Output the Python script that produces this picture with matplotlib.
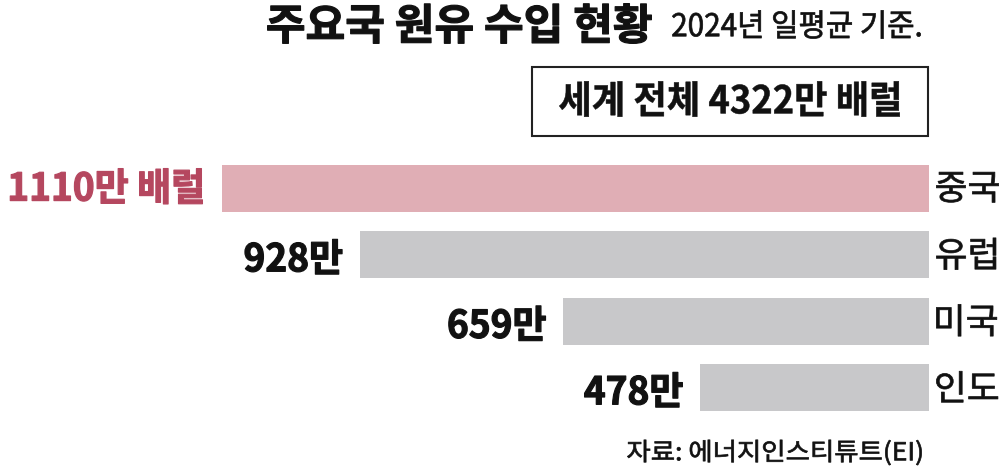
import matplotlib
matplotlib.use("Agg")
import matplotlib.pyplot as plt
from matplotlib.textpath import TextPath
from matplotlib.patches import PathPatch, Rectangle
from matplotlib.font_manager import FontProperties
from matplotlib.transforms import Affine2D

# Crude oil imports, 2024 daily average (10,000 barrels per day)
regions = ["중국", "유럽", "미국", "인도"]
imports = [1110, 928, 659, 478]
world_total = 4322
title = "주요국 원유 수입 현황"
subtitle = "2024년 일평균 기준."
source = "자료: 에너지인스티튜트(EI)"

PINK = "#e0aeb5"
RED = "#b5475f"
GRAY = "#c8c8ca"
INK = "#111111"
FAMILY = "Noto Sans CJK KR"

W, H = 1000, 469
fig = plt.figure(figsize=(W / 100, H / 100), dpi=100)

# --- bar panel: bars grow leftwards, right edge at x = 929 px ---
px_per_unit = 0.7563
baseline = 175.2
right_px = 929
top_px, bottom_px = 155, 421
ax = fig.add_axes([0, (H - bottom_px) / H, right_px / W, (bottom_px - top_px) / H])
ypos = list(range(len(regions)))
colors = [PINK] + [GRAY] * (len(regions) - 1)
ax.barh(ypos, imports, height=0.707, color=colors, linewidth=0)
ax.set_xlim(baseline + right_px / px_per_unit, baseline)
ax.set_ylim(len(regions) - 0.5, -0.5)
ax.axis("off")

# --- overlay in pixel coordinates for text ---
ov = fig.add_axes([0, 0, 1, 1], zorder=5)
ov.set_xlim(0, W)
ov.set_ylim(0, H)
ov.axis("off")


def glyph_path(s, weight):
    fp = FontProperties(family=FAMILY, weight=weight)
    return TextPath((0, 0), s, size=100, prop=fp)


def fit_scale(s, weight, w, h):
    ext = glyph_path(s, weight).get_extents()
    return w / ext.width, h / ext.height


def draw(s, weight, color, scale, x, y, ha="left", stroke=0.0):
    """Draw string s with ink box aligned at x (left/right) and centred at y (pixels from top).
    stroke (px) thickens the glyph outlines."""
    path = glyph_path(s, weight)
    ext = path.get_extents()
    sx, sy = scale
    if ha == "left":
        tx = x + stroke / 2 - ext.x0 * sx
    elif ha == "right":
        tx = x - stroke / 2 - ext.x1 * sx
    else:
        tx = x - (ext.x0 + ext.x1) / 2 * sx
    ty = (H - y) - (ext.y0 + ext.y1) / 2 * sy
    tr = Affine2D().scale(sx, sy).translate(tx, ty)
    ov.add_patch(PathPatch(tr.transform_path(path), facecolor=color,
                           edgecolor=color if stroke else "none",
                           lw=stroke * 0.72, joinstyle="round"))


# title and subtitle
draw(title, "bold", INK, fit_scale(title, "bold", 652 - 267 - 1.2, 41 - 1.2),
     267, 23.5, stroke=1.2)
draw(subtitle, "regular", INK, fit_scale(subtitle, "regular", 921 - 672 - 0.7, 29 - 0.7),
     672, 24.5, stroke=0.7)

# world total box
ov.add_patch(Rectangle((532, H - 136), 396, 69, facecolor="none",
                       edgecolor="#222222", lw=1.5))
box_text = f"세계 전체 {world_total}만 배럴"
draw(box_text, "bold", INK, fit_scale(box_text, "bold", 900 - 559 - 0.5, 36 - 0.5),
     559, 99, stroke=0.5)

# value labels, right-aligned just left of each bar
val_scale = fit_scale("478만", "bold", 99 - 1.2, 36 - 1.2)
for i, v in enumerate(imports):
    bx, by = ax.transData.transform((v, i))
    cy = H - by
    if i == 0:
        draw(f"{v}만 배럴", "bold", RED, val_scale, bx - 19, cy - 2, ha="right", stroke=1.2)
    else:
        draw(f"{v}만", "bold", INK, val_scale, bx - 17, cy + 2, ha="right", stroke=1.2)

# region names to the right of the bars
name_scale = fit_scale("중국", "regular", 63 - 0.7, 31 - 0.7)
for i, name in enumerate(regions):
    bx, by = ax.transData.transform((baseline, i))
    draw(name, "regular", INK, name_scale, bx + 7, H - by - 1, stroke=0.7)

# source
draw(source, "regular", INK, fit_scale(source, "regular", 922 - 627 - 0.7, 26 - 0.7),
     627, 452.5, stroke=0.7)

fig.savefig("out.png", dpi=100, facecolor="white")
